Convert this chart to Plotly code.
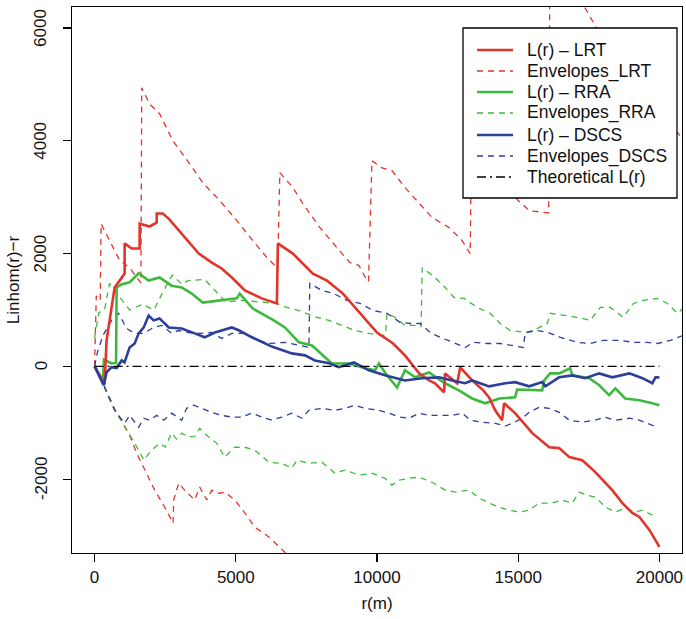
import plotly.graph_objects as go

# ---------------- data ----------------
r_lrt = [0, 355, 425, 530, 710, 887, 1064, 1064, 1312, 1596, 1596, 1950, 2200, 2200, 2410, 2624,
         3085, 3370, 3690, 4150, 4500, 4860, 5320, 5920, 6455, 6490, 7020, 7730, 8230, 8795, 9400,
         10000, 10570, 10990, 11490, 11845, 12055, 12375, 12410, 12840, 12945, 13370, 13760, 13970,
         14185, 14430, 14500, 14890, 15500, 16100, 16450, 16810, 17270, 17730, 18330, 18690, 19040,
         19290, 19645, 20000]
l_lrt = [0, -320, 460, 815, 1400, 1520, 1645, 2180, 2090, 2090, 2530, 2480, 2550, 2710, 2710, 2620,
         2355, 2195, 2000, 1840, 1735, 1575, 1345, 1205, 1115, 2180, 2000, 1645, 1520, 1290, 940,
         600, 405, 195, -125, -250, -300, -460, -125, -300, -20, -250, -425, -550,
         -780, -955, -655, -830, -1185, -1435, -1450, -1610, -1665, -1875, -2195, -2425, -2600,
         -2670, -2900, -3200]

r_rra = [0, 300, 330, 600, 760, 780, 950, 1240, 1560, 1910, 2300, 2730, 3085, 3440, 3830, 4430,
         5035, 5140, 5600, 6300, 6740, 7235, 7700, 8160, 8400, 9000, 9580, 9930, 10070, 10280,
         10710, 10990, 11350, 11845, 12410, 12900, 13370, 13830, 14330, 14890, 14960, 15850, 15920,
         16130, 16450, 16840, 16920, 17520, 17870, 18220, 18440, 18790, 19290, 19750, 20000]
l_rra = [0, -250, 120, 50, 60, 1400, 1450, 1490, 1650, 1520, 1575, 1430, 1400, 1290, 1130, 1170,
         1205, 1290, 1025, 830, 690, 425, 370, 160, 50, 50, -35, -70, 50, -110,
         -375, -70, -195, -110, -300, -425, -570, -655, -570, -550, -410, -425, -250,
         -125, -125, -35, -160, -210, -335, -510, -390, -570, -600, -655, -690]

r_dscs = [0, 320, 425, 600, 780, 960, 1060, 1240, 1420, 1560, 1740, 1915, 2090, 2300, 2625, 3085,
          3545, 3900, 4255, 4860, 5105, 5570, 6275, 6985, 7450, 7800, 8300, 8650, 9185, 9715, 10280,
          10990, 11595, 12200, 12660, 13120, 13370, 13970, 14540, 14890, 15390, 15850, 15960, 16450,
          16915, 17375, 17870, 18330, 18935, 19400, 19750, 19860, 20000]
l_dscs = [0, -335, -105, -15, -30, 105, 70, 335, 405, 585, 690, 900, 815, 850, 690, 670,
          585, 515, 600, 690, 640, 515, 350, 230, 195, 105, 55, -15, 70, -70, -160,
          -250, -210, -195, -250, -300, -250, -355, -300, -280, -355, -280, -355, -195,
          -160, -210, -125, -195, -125, -210, -300, -195, -195]

# envelopes (upper, lower)
r_env_lrt_hi = [0, 60, 200, 230, 530, 890, 1240, 1600, 1640, 1670, 1950, 2300, 2770, 3370, 3830,
                4430, 5035, 5600, 6100, 6455, 6480, 6560, 7020, 7375, 7980, 8580, 9040, 9360, 9645,
                9700, 9820, 10180, 10530, 10990, 11490, 11950, 12550, 13015, 13300, 13340, 13900,
                14600, 15000, 15400, 16080, 16120, 16500, 17000, 17375, 17730, 18200, 18700, 19200,
                19700, 20200, 20800]
env_lrt_hi = [0, 1250, 1170, 2530, 2230, 1875, 1750, 1520, 1480, 4940, 4650, 4480, 4000, 3590, 3255,
              2940, 2585, 2230, 1930, 1750, 1700, 3435, 3170, 2885, 2460, 2105, 1840, 1790, 1520,
              1500, 3645, 3520, 3470, 3170, 2885, 2640, 2460, 2230, 2000, 3850, 3500,
              3200, 2940, 2760, 2720, 7000, 6800, 6500, 6350, 6035, 5700, 5400, 5050,
              4700, 4400, 4050]
r_env_lrt_lo = [0, 300, 700, 1000, 1240, 1500, 1770, 2130, 2480, 2780, 2800, 2980, 3190, 3545, 3720,
                3970, 4150, 4400, 4610, 4965, 5320, 5670, 6170, 6800, 8000, 10000, 13000, 16000, 20000]
env_lrt_lo = [0, -300, -750, -1000, -1220, -1550, -1840, -2195, -2495, -2780, -2370, -2070, -2195,
              -2370, -2140, -2370, -2195, -2250, -2230, -2370, -2600, -2850, -3025, -3320, -3900,
              -4700, -5600, -6500, -7500]

r_env_rra_hi = [0, 150, 350, 530, 700, 1240, 1700, 2100, 2400, 2750, 3100, 3300, 3900, 4300, 4650,
                5200, 5700, 6455, 6800, 7235, 7800, 8300, 8760, 9220, 9715, 10180, 10300, 10355,
                10640, 10990, 11490, 11560, 11600, 12055, 12410, 12730, 13085, 13545, 14010, 14360,
                14715, 15320, 15670, 16030, 16130, 16600, 17090, 17550, 17910, 18260, 18720, 19080,
                19430, 19930, 20280, 20640, 20850]
env_rra_hi = [500, 950, 1000, 1470, 1350, 1000, 1100, 1000, 1300, 1620, 1450, 1520, 1540, 1330, 1140,
              1170, 1150, 1115, 1045, 990, 880, 815, 725, 635, 585, 550, 560, 940,
              870, 725, 725, 700, 1750, 1575, 1400, 1220, 1205, 1045, 940, 760,
              635, 600, 670, 760, 940, 900, 870, 815, 1045, 1045, 870, 1115,
              1170, 1205, 1115, 940, 1030]
r_env_rra_lo = [0, 300, 700, 1000, 1240, 1600, 1740, 2020, 2300, 2500, 2730, 2900, 3085, 3330, 3545,
                3720, 4040, 4330, 4610, 4965, 5320, 5670, 6170, 6630, 6985, 7165, 7590, 8050, 8510,
                8865, 9360, 9820, 10280, 10530, 10780, 11135, 11490, 11950, 12410, 12765, 13260,
                13615, 13970, 14325, 14680, 15035, 15390, 15745, 16200, 16560, 16915, 17160, 17445,
                17730, 18085, 18440, 18790, 19150, 19400, 19750, 19900]
env_rra_lo = [0, -300, -750, -1000, -1220, -1520, -1665, -1485, -1365, -1430, -1185, -1290, -1185,
              -1255, -1240, -1100, -1255, -1365, -1610, -1435, -1435, -1485, -1700, -1720, -1805,
              -1665, -1720, -1700, -1895, -1840, -1930, -1895, -1985, -2105, -2020, -1985, -1965,
              -2055, -2195, -2230, -2195, -2335, -2425, -2495, -2550, -2585, -2550, -2425, -2425,
              -2370, -2425, -2230, -2285, -2320, -2495, -2585, -2515, -2585, -2550, -2640, -2650]

r_env_dscs_hi = [0, 100, 300, 600, 850, 1135, 1420, 1740, 2090, 2380, 2730, 2980, 3330, 3690, 4150,
                 4500, 4860, 5320, 5815, 6170, 6740, 7235, 7590, 7620, 8050, 8475, 8935, 9400, 9860,
                 10355, 10815, 11170, 11525, 11880, 12235, 12695, 13120, 13405, 13900, 14360, 14820,
                 15180, 15250, 15670, 16065, 16490, 17090, 17550, 18010, 18615, 19080, 19570, 19930,
                 20390, 20850]
env_dscs_hi = [0, 250, 550, 815, 940, 670, 585, 585, 690, 725, 585, 635, 600, 585, 600,
               495, 585, 585, 460, 405, 425, 370, 335, 1470, 1345, 1290, 1170, 1115, 990,
               940, 780, 760, 760, 600, 515, 425, 335, 425, 405, 405, 370,
               335, 600, 635, 600, 515, 425, 405, 460, 460, 425, 425, 405,
               460, 550]
r_env_dscs_lo = [0, 250, 500, 710, 1065, 1240, 1560, 1740, 1950, 2200, 2450, 2730, 3085, 3260, 3510,
                 3790, 4150, 4500, 4860, 5210, 5570, 5920, 6275, 6630, 6985, 7340, 7590, 8050, 8510,
                 8865, 9220, 9575, 10070, 10425, 10780, 11135, 11490, 11845, 12200, 12660, 13015,
                 13300, 13720, 14185, 14540, 14785, 15140, 15390, 15745, 16100, 16450, 16810, 17270,
                 17730, 18050, 18440, 18935, 19290, 19750, 19900]
env_dscs_lo = [0, -250, -550, -780, -1010, -870, -1080, -920, -955, -870, -955, -830, -955, -745,
               -690, -745, -815, -870, -900, -900, -830, -900, -955, -900, -830, -920, -780, -745,
               -780, -745, -690, -745, -780, -830, -900, -920, -830, -870, -870, -870, -830, -955,
               -990, -1010, -1060, -1010, -920, -815, -725, -745, -815, -955, -990, -955, -900,
               -955, -920, -955, -1045, -1060]

r_theo = [0, 20000]
l_theo = [0, 0]

x_ticks = [0, 5000, 10000, 15000, 20000]
y_ticks = [-2000, 0, 2000, 4000, 6000]

legend_labels = ["L(r) \u2013 LRT", "Envelopes_LRT", "L(r) \u2013 RRA", "Envelopes_RRA",
                 "L(r) \u2013 DSCS", "Envelopes_DSCS", "Theoretical L(r)"]

RED = "#E2342A"
GREEN = "#3DBA3D"
BLUE = "#2C3F9A"
FONT = "Liberation Sans, Arial, Helvetica, sans-serif"
ENV_DASH = "6px,5px"
THEO_DASH = "9px,4px,2px,4px"
SOLID_W = 2.6
ENV_W = 1.3

# plot-area geometry (px) used to place the legend box / labels in paper coordinates
ML, MR, MT, MB = 72, 4, 7, 66
W, H = 686, 619
PW, PH = W - ML - MR, H - MT - MB


def px_x(p):
    return (p - ML) / PW


def px_y(p):
    return (H - MB - p) / PH


def joined(r1, v1, r2, v2):
    return list(r1) + [None] + list(r2), list(v1) + [None] + list(v2)


fig = go.Figure()

env_specs = [
    (legend_labels[1], RED, r_env_lrt_hi, env_lrt_hi, r_env_lrt_lo, env_lrt_lo),
    (legend_labels[3], GREEN, r_env_rra_hi, env_rra_hi, r_env_rra_lo, env_rra_lo),
    (legend_labels[5], BLUE, r_env_dscs_hi, env_dscs_hi, r_env_dscs_lo, env_dscs_lo),
]
for name, col, rh, vh, rl, vl in env_specs:
    xs, ys = joined(rh, vh, rl, vl)
    fig.add_trace(go.Scatter(x=xs, y=ys, mode="lines", name=name, showlegend=False,
                             connectgaps=False,
                             line=dict(color=col, width=ENV_W, dash=ENV_DASH)))

line_specs = [
    (legend_labels[2], GREEN, r_rra, l_rra),
    (legend_labels[0], RED, r_lrt, l_lrt),
    (legend_labels[4], BLUE, r_dscs, l_dscs),
]
for name, col, rr, ll in line_specs:
    fig.add_trace(go.Scatter(x=rr, y=ll, mode="lines", name=name, showlegend=False,
                             line=dict(color=col, width=SOLID_W)))

fig.add_trace(go.Scatter(x=r_theo, y=l_theo, mode="lines", name=legend_labels[6],
                         showlegend=False,
                         line=dict(color="black", width=1.4, dash=THEO_DASH)))

# ---------------- legend box (R-style) ----------------
styles = [(RED, SOLID_W, "solid"), (RED, ENV_W, ENV_DASH), (GREEN, SOLID_W, "solid"),
          (GREEN, ENV_W, ENV_DASH), (BLUE, SOLID_W, "solid"), (BLUE, ENV_W, ENV_DASH),
          ("black", 1.4, THEO_DASH)]
shapes = [dict(type="rect", xref="paper", yref="paper",
               x0=px_x(463), x1=px_x(677), y0=px_y(198), y1=px_y(28),
               line=dict(color="black", width=1.3), fillcolor="white", layer="above")]
annotations = []
row_y = [50, 71, 92, 113, 135, 156, 177]
for (col, w, dash), lab, yy in zip(styles, legend_labels, row_y):
    shapes.append(dict(type="line", xref="paper", yref="paper",
                       x0=px_x(477), x1=px_x(513), y0=px_y(yy), y1=px_y(yy),
                       line=dict(color=col, width=w, dash=dash), layer="above"))
    annotations.append(dict(text=lab, xref="paper", yref="paper", x=px_x(525), y=px_y(yy),
                            xanchor="left", yanchor="middle", showarrow=False,
                            font=dict(family=FONT, size=17.5, color="#111")))

# rotated y tick labels, placed like R's las=0 labels
for v in y_ticks:
    annotations.append(dict(text=str(v), xref="paper", yref="y", x=px_x(41), y=v,
                            xanchor="center", yanchor="middle", textangle=-90,
                            showarrow=False, font=dict(family=FONT, size=17, color="#111")))

fig.update_layout(
    width=W, height=H,
    margin=dict(l=ML, r=MR, t=MT, b=MB, autoexpand=False),
    paper_bgcolor="white", plot_bgcolor="white",
    font=dict(family=FONT, size=17, color="#111"),
    showlegend=False,
    shapes=shapes, annotations=annotations,
    xaxis=dict(range=[-800, 20800], tickvals=x_ticks, ticktext=[str(v) for v in x_ticks],
               showgrid=False, zeroline=False, showline=True, mirror=True, automargin=False,
               linecolor="black", linewidth=1.2, ticks="outside", ticklen=8,
               tickcolor="black", tickwidth=1.2,
               title=dict(text="r(m)", standoff=11, font=dict(size=17))),
    yaxis=dict(range=[-3310, 6372], tickvals=y_ticks, showticklabels=False,
               showgrid=False, zeroline=False, showline=True, mirror=True, automargin=False,
               linecolor="black", linewidth=1.2, ticks="outside", ticklen=8,
               tickcolor="black", tickwidth=1.2,
               title=dict(text="Linhom(r)\u2212r", standoff=38, font=dict(size=17))),
)

fig.write_html("out.html",
               config={"displayModeBar": False, "staticPlot": True},
               post_script="document.body.style.margin='0px';"
                           "document.body.style.overflow='hidden';")
